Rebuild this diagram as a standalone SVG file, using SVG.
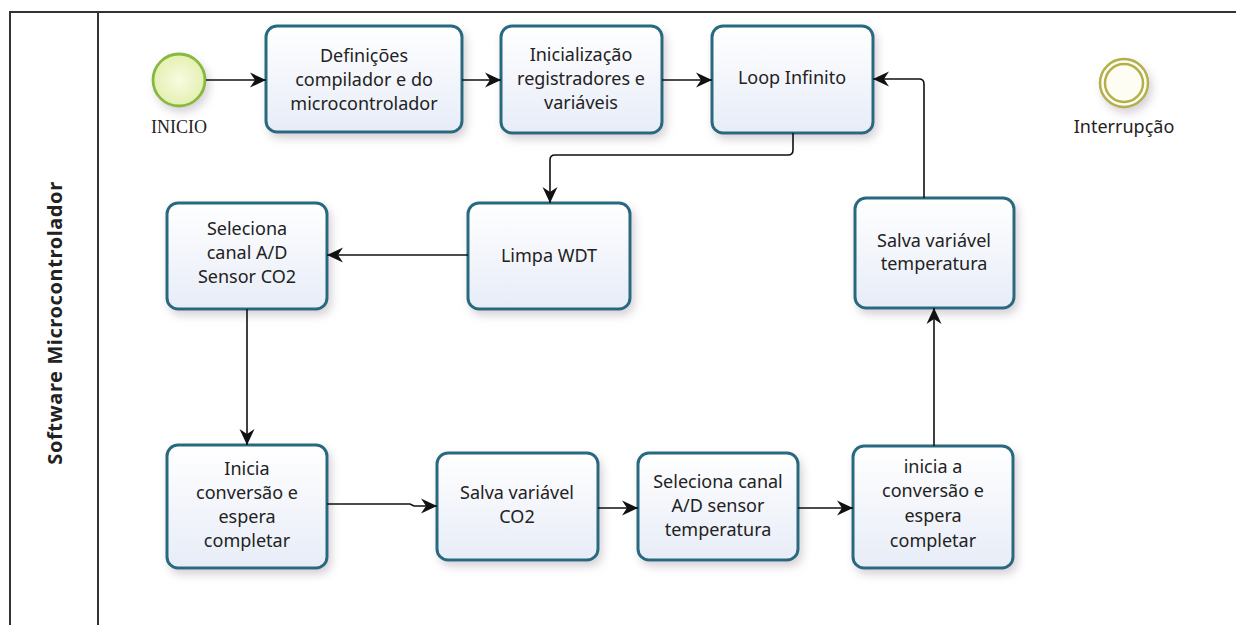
<svg xmlns="http://www.w3.org/2000/svg" width="1236" height="625" viewBox="0 0 1236 625">
  <defs>
    <linearGradient id="taskFill" x1="0" y1="0" x2="0" y2="1">
      <stop offset="0" stop-color="#ffffff"/>
      <stop offset="1" stop-color="#e7ecf7"/>
    </linearGradient>
    <radialGradient id="startFill" cx="0.5" cy="0.5" r="0.5">
      <stop offset="0" stop-color="#f8fbe2"/>
      <stop offset="1" stop-color="#e4f0b0"/>
    </radialGradient>
    <filter id="shadow" x="-20%" y="-20%" width="150%" height="160%">
      <feDropShadow dx="3" dy="5" stdDeviation="4" flood-color="#a89aa8" flood-opacity="0.45"/>
    </filter>
    <marker id="arrow" viewBox="0 0 16 16" refX="16" refY="8" markerWidth="16" markerHeight="16" markerUnits="userSpaceOnUse" orient="auto">
      <path d="M0,0.5 L16,8 L0,15.5 L5,8 z" fill="#111"/>
    </marker>
    <style>
      .task rect { fill: url(#taskFill); stroke: #286a80; stroke-width: 3; filter: url(#shadow); }
      .label { font-family: "Noto Sans", "Open Sans", sans-serif; font-size: 18px; fill: #222; text-anchor: middle; }
      .flow { fill: none; stroke: #111; stroke-width: 1.6; marker-end: url(#arrow); }
      .frame { fill: none; stroke: #333; stroke-width: 2; }
    </style>
  </defs>

  <rect width="1236" height="625" fill="#ffffff"/>

  <!-- pool and lane frame -->
  <g id="pool">
    <path class="frame" d="M10,625 V12 H1236"/>
    <path class="frame" d="M98,12 V625"/>
    <text transform="translate(62,323) rotate(-90)" font-family="'Noto Sans', 'Open Sans', sans-serif" font-size="20" font-weight="bold" letter-spacing="0.6" fill="#222" text-anchor="middle">Software Microcontrolador</text>
  </g>

  <!-- start event -->
  <g id="inicio">
    <circle cx="179" cy="80" r="26" fill="url(#startFill)" stroke="#86b93c" stroke-width="2.8" filter="url(#shadow)"/>
    <text x="179" y="133" font-family="'Liberation Serif', serif" font-size="18" fill="#222" text-anchor="middle">INICIO</text>
  </g>

  <!-- intermediate event -->
  <g id="interrupcao">
    <circle cx="1124" cy="83" r="24" fill="#fdfdf4" stroke="#b3b04a" stroke-width="2.5" filter="url(#shadow)"/>
    <circle cx="1124" cy="83" r="19" fill="none" stroke="#b3b04a" stroke-width="2.5"/>
    <text class="label" x="1124" y="133">Interrupção</text>
  </g>

  <g id="definicoes" class="task">
    <rect x="266" y="26" width="196" height="106" rx="11"/>
    <text class="label" x="364" y="62">Definições</text>
    <text class="label" x="364" y="86">compilador e do</text>
    <text class="label" x="364" y="110">microcontrolador</text>
  </g>

  <g id="inicializacao" class="task">
    <rect x="501" y="26" width="161" height="107" rx="11"/>
    <text class="label" x="581" y="61">Inicialização</text>
    <text class="label" x="581" y="85">registradores e</text>
    <text class="label" x="581" y="109">variáveis</text>
  </g>

  <g id="loop" class="task">
    <rect x="712" y="26" width="161" height="107" rx="11"/>
    <text class="label" x="792" y="84">Loop Infinito</text>
  </g>

  <g id="limpa-wdt" class="task">
    <rect x="468" y="203" width="162" height="106" rx="11"/>
    <text class="label" x="549" y="262">Limpa WDT</text>
  </g>

  <g id="seleciona-co2" class="task">
    <rect x="167" y="203" width="160" height="106" rx="11"/>
    <text class="label" x="247" y="235">Seleciona</text>
    <text class="label" x="247" y="259">canal A/D</text>
    <text class="label" x="247" y="283">Sensor CO2</text>
  </g>

  <g id="salva-temperatura" class="task">
    <rect x="855" y="198" width="159" height="110" rx="11"/>
    <text class="label" x="934" y="247">Salva variável</text>
    <text class="label" x="934" y="270">temperatura</text>
  </g>

  <g id="inicia-conversao" class="task">
    <rect x="167" y="445" width="160" height="123" rx="11"/>
    <text class="label" x="247" y="475">Inicia</text>
    <text class="label" x="247" y="499">conversão e</text>
    <text class="label" x="247" y="523">espera</text>
    <text class="label" x="247" y="547">completar</text>
  </g>

  <g id="salva-co2" class="task">
    <rect x="437" y="453" width="161" height="107" rx="11"/>
    <text class="label" x="517" y="499">Salva variável</text>
    <text class="label" x="517" y="523">CO2</text>
  </g>

  <g id="seleciona-temperatura" class="task">
    <rect x="638" y="453" width="160" height="107" rx="11"/>
    <text class="label" x="718" y="488">Seleciona canal</text>
    <text class="label" x="718" y="512">A/D sensor</text>
    <text class="label" x="718" y="536">temperatura</text>
  </g>

  <g id="inicia-a-conversao" class="task">
    <rect x="853" y="446" width="160" height="122" rx="11"/>
    <text class="label" x="933" y="473">inicia a</text>
    <text class="label" x="933" y="497">conversão e</text>
    <text class="label" x="933" y="522">espera</text>
    <text class="label" x="933" y="547">completar</text>
  </g>

  <!-- sequence flows -->
  <g id="connectors">
    <path class="flow" d="M206,80 H266"/>
    <path class="flow" d="M462,80 H501"/>
    <path class="flow" d="M662,80 H712"/>
    <path class="flow" d="M793,133 V150 Q793,155 788,155 H555 Q550,155 550,160 V203"/>
    <path class="flow" d="M468,255 H327"/>
    <path class="flow" d="M247,309 V445"/>
    <path class="flow" d="M327,504 H410 L414,506 H437"/>
    <path class="flow" d="M598,508 H638"/>
    <path class="flow" d="M798,508 H853"/>
    <path class="flow" d="M934,446 V308"/>
    <path class="flow" d="M924,198 V84 Q924,79 919,79 H873"/>
  </g>
</svg>
